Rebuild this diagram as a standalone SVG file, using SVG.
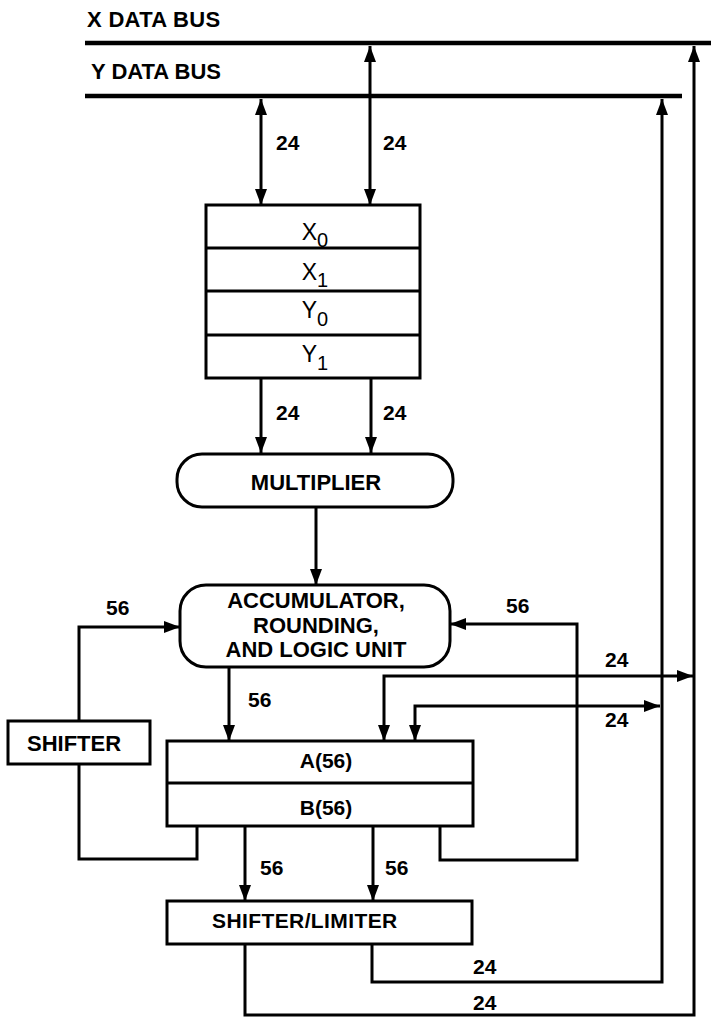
<svg xmlns="http://www.w3.org/2000/svg" width="711" height="1018" viewBox="0 0 711 1018">
<defs>
<marker id="ah" markerUnits="userSpaceOnUse" markerWidth="16" markerHeight="12" refX="16" refY="6" orient="auto-start-reverse" viewBox="0 0 16 12">
<path d="M0,0 L16,6 L0,12 z" fill="#000"/>
</marker>
<style>
.t{font-family:"Liberation Sans",Arial,sans-serif;font-weight:bold;fill:#000}
.r{font-family:"Liberation Sans",Arial,sans-serif;font-weight:normal;fill:#000}
.n{font-size:21px}
.c{stroke:#000;stroke-width:3;fill:none}
.box{stroke:#000;stroke-width:3;fill:#fff}
.bus{stroke:#000;stroke-width:4.5;fill:none}
</style>
</defs>
<rect width="711" height="1018" fill="#fff"/>

<g id="x-data-bus">
<line class="bus" x1="85" y1="43" x2="711" y2="43"/>
<text class="t" x="87" y="27" font-size="22" letter-spacing="0.3">X DATA BUS</text>
</g>
<g id="y-data-bus">
<line class="bus" x1="85" y1="96" x2="682" y2="96"/>
<text class="t" x="91" y="79" font-size="22">Y DATA BUS</text>
</g>

<g id="connectors">
<path class="c" d="M261,99 V205" marker-start="url(#ah)" marker-end="url(#ah)"/>
<path class="c" d="M370,46 V205" marker-start="url(#ah)" marker-end="url(#ah)"/>
<path class="c" d="M261,378 V453" marker-end="url(#ah)"/>
<path class="c" d="M371,378 V453" marker-end="url(#ah)"/>
<path class="c" d="M316,507 V585" marker-end="url(#ah)"/>
<path class="c" d="M229,667 V741" marker-end="url(#ah)"/>
<path class="c" d="M197,826 V859 H79 V764"/>
<path class="c" d="M79,721 V627 H180" marker-end="url(#ah)"/>
<path class="c" d="M440,826 V860 H577 V624 H450" marker-end="url(#ah)"/>
<path class="c" d="M384,741 V676 H693" marker-start="url(#ah)" marker-end="url(#ah)"/>
<path class="c" d="M415,741 V706 H660" marker-start="url(#ah)" marker-end="url(#ah)"/>
<path class="c" d="M245,826 V901" marker-end="url(#ah)"/>
<path class="c" d="M373,826 V901" marker-end="url(#ah)"/>
<path class="c" d="M372,944 V982 H662 V99" marker-end="url(#ah)"/>
<path class="c" d="M245,944 V1015 H694 V46" marker-end="url(#ah)"/>
<text class="t n" x="276" y="150">24</text>
<text class="t n" x="383" y="150">24</text>
<text class="t n" x="276" y="420">24</text>
<text class="t n" x="383" y="420">24</text>
<text class="t n" x="106" y="615">56</text>
<text class="t n" x="506" y="613">56</text>
<text class="t n" x="248" y="707">56</text>
<text class="t n" x="605" y="667">24</text>
<text class="t n" x="605" y="727">24</text>
<text class="t n" x="260" y="875">56</text>
<text class="t n" x="385" y="875">56</text>
<text class="t n" x="473" y="974">24</text>
<text class="t n" x="473" y="1010">24</text>
</g>

<g id="registers-xy">
<rect class="box" x="206" y="205" width="214" height="173"/>
<line class="c" x1="206" y1="248" x2="420" y2="248" stroke-width="2.5"/>
<line class="c" x1="206" y1="291" x2="420" y2="291" stroke-width="2.5"/>
<line class="c" x1="206" y1="335" x2="420" y2="335" stroke-width="2.5"/>
<text class="r" x="315" y="240" font-size="23" text-anchor="middle">X<tspan font-size="20" dy="7">0</tspan></text>
<text class="r" x="315" y="280" font-size="23" text-anchor="middle">X<tspan font-size="20" dy="7">1</tspan></text>
<text class="r" x="315" y="318" font-size="23" text-anchor="middle">Y<tspan font-size="20" dy="8">0</tspan></text>
<text class="r" x="315" y="362" font-size="23" text-anchor="middle">Y<tspan font-size="20" dy="8">1</tspan></text>
</g>

<g id="multiplier">
<rect class="box" x="177" y="454" width="276" height="53" rx="25" ry="25"/>
<text class="t" x="316" y="490" font-size="22" text-anchor="middle">MULTIPLIER</text>
</g>

<g id="alu">
<rect class="box" x="180" y="585" width="270" height="82" rx="26" ry="26"/>
<text class="t" x="316" y="608" font-size="22" text-anchor="middle">ACCUMULATOR,</text>
<text class="t" x="316" y="633" font-size="22" text-anchor="middle">ROUNDING,</text>
<text class="t" x="316" y="657" font-size="22" text-anchor="middle">AND LOGIC UNIT</text>
</g>

<g id="shifter">
<rect class="box" x="8" y="721" width="142" height="43"/>
<text class="t" x="27" y="751" font-size="22">SHIFTER</text>
</g>

<g id="accumulators-ab">
<rect class="box" x="167" y="741" width="306" height="85"/>
<line class="c" x1="167" y1="783" x2="473" y2="783" stroke-width="2.5"/>
<text class="t" x="326" y="768" font-size="21" text-anchor="middle">A(56)</text>
<text class="t" x="326" y="815" font-size="21" text-anchor="middle">B(56)</text>
</g>

<g id="shifter-limiter">
<rect class="box" x="167" y="901" width="305" height="43"/>
<text class="t" x="212" y="928" font-size="21" letter-spacing="0.4">SHIFTER/LIMITER</text>
</g>
</svg>
